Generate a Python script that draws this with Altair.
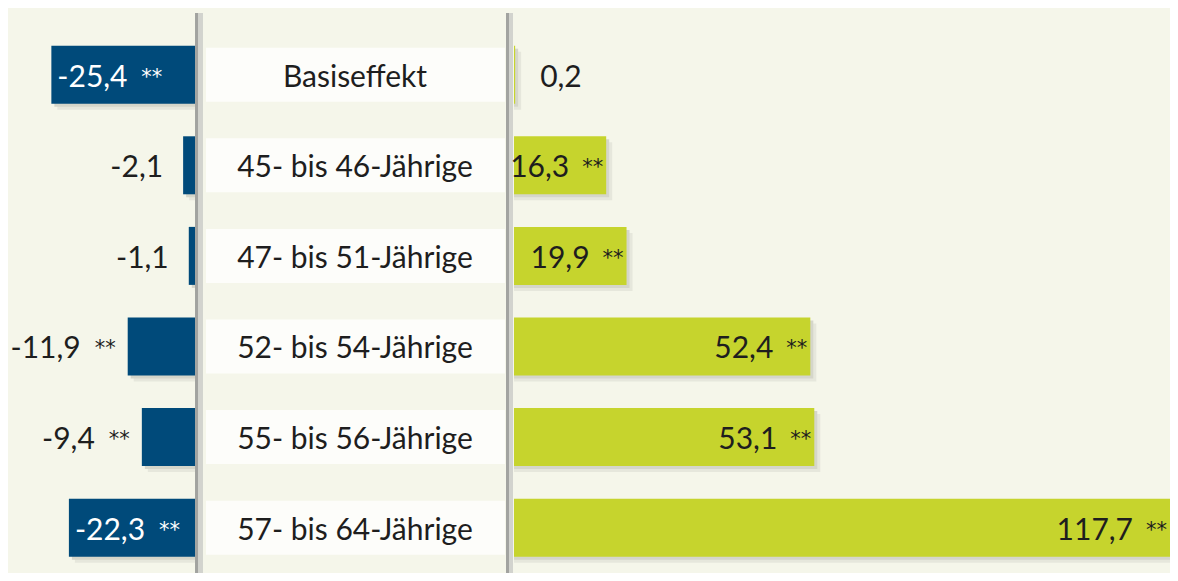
import altair as alt
import pandas as pd

categories = ["Basiseffekt", "45- bis 46-Jährige", "47- bis 51-Jährige",
              "52- bis 54-Jährige", "55- bis 56-Jährige", "57- bis 64-Jährige"]
neg_values = [-25.4, -2.1, -1.1, -11.9, -9.4, -22.3]
neg_sig = [True, False, False, True, True, True]
pos_values = [0.2, 16.3, 19.9, 52.4, 53.1, 117.7]
pos_sig = [False, True, True, True, True, True]

def de(v):
    return f"{v:.1f}".replace(".", ",")

df = pd.DataFrame({
    "cat": categories,
    "neg": neg_values,
    "pos": pos_values,
    "neg_lab": [de(v) for v in neg_values],
    "pos_lab": [de(v) for v in pos_values],
    "neg_sig": neg_sig,
    "pos_sig": pos_sig,
    "neg_in": [abs(v) > 20 for v in neg_values],
    "pos_in": [v > 10 for v in pos_values],
    "star": ["**"] * len(categories),
})

W, H = 1162, 565
PX = 5.655
zero_a = 187
zero_b = 506
scale_a = alt.Scale(domain=[-zero_a / PX, (W - zero_a) / PX], nice=False, zero=False)
scale_b = alt.Scale(domain=[-zero_b / PX, (W - zero_b) / PX], nice=False, zero=False, clamp=True)

yenc = alt.Y("cat:N", sort=categories, axis=None,
             scale=alt.Scale(paddingInner=0, paddingOuter=0.118, align=1))

BLUE = "#004a7a"
GREEN = "#c6d42d"
TXT = "#1e1e1e"
FONT = "Lato"
SFONT = "DejaVu Sans"
FS = 30
SFS = 21
BAR = 58
HALF_STEP = 45.3
SH_NEAR = HALF_STEP + 3
SH_FAR = HALF_STEP + 6

base = alt.Chart(df)

# decoration: label boxes, separator lines, category labels
boxes = base.mark_bar(color="#fdfdfa", size=54).encode(
    y=yenc, x=alt.value(198), x2=alt.value(497))
rule_l1 = base.mark_rule(color="#a2a3a0", strokeWidth=3).encode(
    x=alt.value(189), y=alt.value(5), y2=alt.value(H))
rule_l2 = base.mark_rule(color="#d2d3ce", strokeWidth=4).encode(
    x=alt.value(192.5), y=alt.value(5), y2=alt.value(H))
rule_r1 = base.mark_rule(color="#a2a3a0", strokeWidth=3).encode(
    x=alt.value(499.5), y=alt.value(5), y2=alt.value(H))
rule_r2 = base.mark_rule(color="#d2d3ce", strokeWidth=4).encode(
    x=alt.value(503), y=alt.value(5), y2=alt.value(H))
cat_text = base.mark_text(font=FONT, fontSize=FS, color=TXT, align="center",
                          baseline="alphabetic", dy=12).encode(
    y=yenc, x=alt.value(347), text="cat:N")
decor = alt.layer(rule_l1, rule_l2, rule_r1, rule_r2, boxes, cat_text)


def shadows(xenc):
    far = base.mark_bar(color="#e6e7dc", size=BAR).encode(
        y=yenc, x=xenc, x2=alt.datum(0),
        xOffset=alt.value(6), yOffset=alt.value(SH_FAR))
    near = base.mark_bar(color="#d5d6ca", size=BAR).encode(
        y=yenc, x=xenc, x2=alt.datum(0),
        xOffset=alt.value(3), yOffset=alt.value(SH_NEAR))
    return [far, near]


# blue (negative) side
xa = alt.X("neg:Q", scale=scale_a, axis=None)
b_bar = base.mark_bar(color=BLUE, size=BAR).encode(y=yenc, x=xa, x2=alt.datum(0))
b_in_num = base.transform_filter("datum.neg_in").mark_text(
    font=FONT, fontSize=FS, color="white", align="left", baseline="alphabetic",
    dx=6, dy=12).encode(y=yenc, x=xa, text="neg_lab:N")
b_in_star = base.transform_filter("datum.neg_in && datum.neg_sig").mark_text(
    font=SFONT, fontSize=SFS, color="white", align="left", baseline="alphabetic",
    dx=90, dy=9).encode(y=yenc, x=xa, text="star:N")
b_out_sig_num = base.transform_filter("!datum.neg_in && datum.neg_sig").mark_text(
    font=FONT, fontSize=FS, color=TXT, align="right", baseline="alphabetic",
    dx=-47, dy=12).encode(y=yenc, x=xa, text="neg_lab:N")
b_out_sig_star = base.transform_filter("!datum.neg_in && datum.neg_sig").mark_text(
    font=SFONT, fontSize=SFS, color=TXT, align="right", baseline="alphabetic",
    dx=-12, dy=9).encode(y=yenc, x=xa, text="star:N")
b_out_ns_num = base.transform_filter("!datum.neg_in && !datum.neg_sig").mark_text(
    font=FONT, fontSize=FS, color=TXT, align="right", baseline="alphabetic",
    dx=-20, dy=12).encode(y=yenc, x=xa, text="neg_lab:N")
blue = alt.layer(*shadows(xa), b_bar, b_in_num, b_in_star,
                 b_out_sig_num, b_out_sig_star, b_out_ns_num)

# green (positive) side
xb = alt.X("pos:Q", scale=scale_b, axis=None)
g_bar = base.mark_bar(color=GREEN, size=BAR).encode(y=yenc, x=xb, x2=alt.datum(0))
g_in_num = base.transform_filter("datum.pos_in").mark_text(
    font=FONT, fontSize=FS, color=TXT, align="right", baseline="alphabetic",
    dx=-37, dy=12).encode(y=yenc, x=xb, text="pos_lab:N")
g_in_star = base.transform_filter("datum.pos_in && datum.pos_sig").mark_text(
    font=SFONT, fontSize=SFS, color=TXT, align="right", baseline="alphabetic",
    dx=-3, dy=9).encode(y=yenc, x=xb, text="star:N")
g_out_num = base.transform_filter("!datum.pos_in").mark_text(
    font=FONT, fontSize=FS, color=TXT, align="left", baseline="alphabetic",
    dx=25, dy=12).encode(y=yenc, x=xb, text="pos_lab:N")
green = alt.layer(*shadows(xb), g_bar, g_in_num, g_in_star, g_out_num)

chart = alt.layer(decor, blue, green).resolve_scale(x="independent").properties(
    width=W, height=H, padding=0,
    autosize=alt.AutoSizeParams(type="none"),
    background="#f5f6ea",
).configure_view(stroke=None)

chart.save("out.html", embed_options={"renderer": "svg", "actions": False})
